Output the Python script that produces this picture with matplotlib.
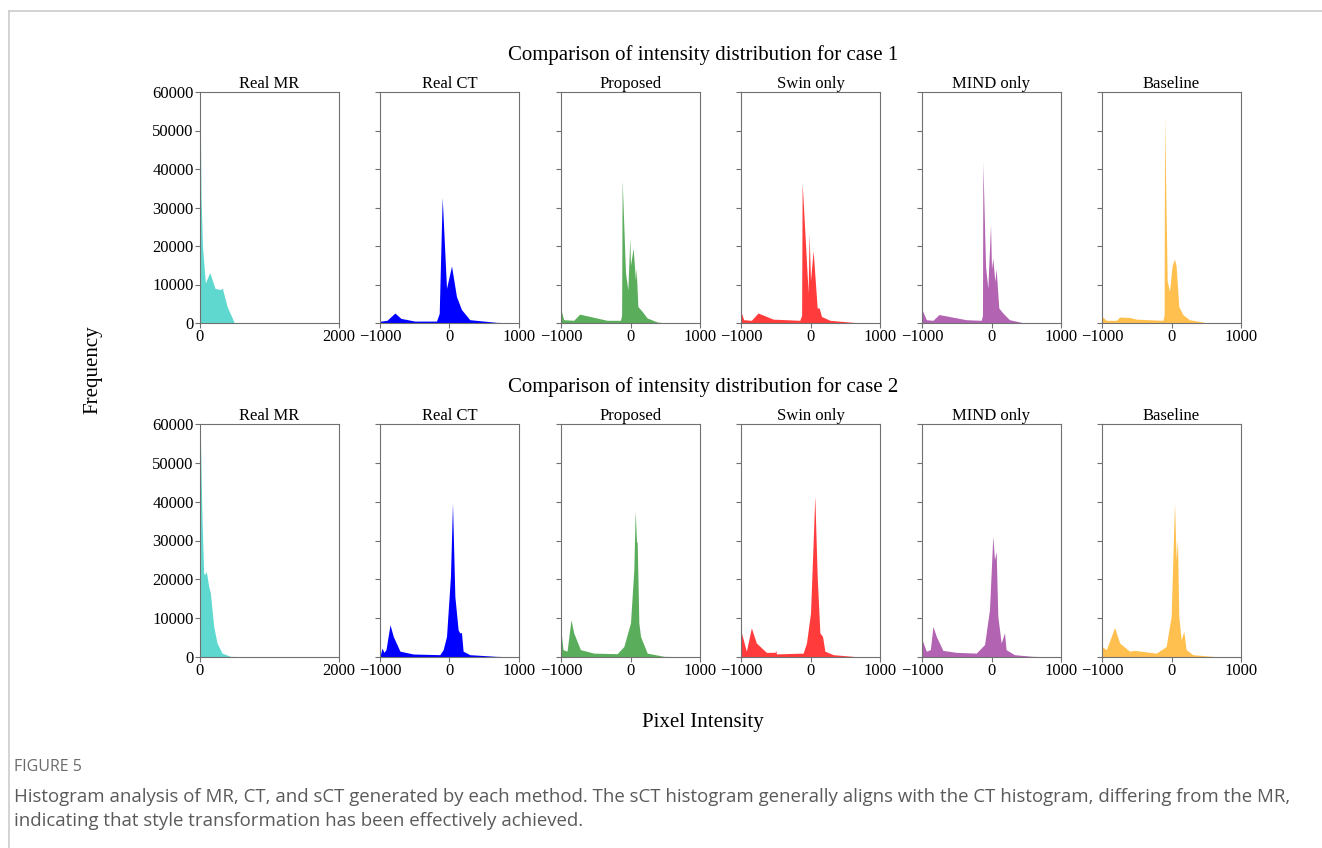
import matplotlib
matplotlib.use("Agg")
from matplotlib import pyplot as plt
from matplotlib.lines import Line2D

plt.rcParams['font.family'] = ['Liberation Serif', 'DejaVu Serif']

# panel names and colours
methods = ["Real MR", "Real CT", "Proposed", "Swin only", "MIND only", "Baseline"]
colors = ["#5fd8d0", "#0000ff", "#5aad5a", "#ff3b3b", "#b263b2", "#ffc04f"]
case_titles = ["Comparison of intensity distribution for case 1",
               "Comparison of intensity distribution for case 2"]

# ---- case 1 (intensity, frequency) ----
c1_mr_x = [0, 0, 15, 35, 77, 140, 216, 290, 322, 390, 495, 2000]
c1_mr_y = [0, 62000, 32800, 20000, 10400, 13100, 9000, 8700, 9000, 4300, 0, 0]
c1_ct_x = [-1000, -985, -900, -785, -700, -500, -187, -148, -105, -43, 29, 100, 172, 292, 675, 1000]
c1_ct_y = [500, 500, 700, 2600, 1200, 500, 500, 2500, 32600, 9000, 14800, 6900, 3500, 860, 170, 0]
c1_pr_x = [-1000, -962, -817, -731, -337, -144, -128, -120, -72, -38, -10, 0, 38, 72, 82, 106, 168, 240, 385, 500, 1000]
c1_pr_y = [3500, 860, 700, 2300, 700, 700, 2000, 37100, 13000, 8600, 22000, 15000, 19400, 11000, 14200, 4300, 3000, 1300, 260, 0, 0]
c1_sw_x = [-1000, -993, -962, -851, -755, -538, -154, -128, -120, -34, -20, 0, 38, 96, 125, 158, 279, 663, 1000]
c1_sw_y = [80000, 2600, 860, 700, 2600, 1000, 700, 2000, 36400, 7800, 23300, 11000, 18800, 3900, 3900, 1700, 700, 90, 0]
c1_mi_x = [-1000, -938, -842, -756, -364, -148, -130, -124, -86, -53, -14, 0, 19, 48, 67, 105, 163, 258, 450, 1000]
c1_mi_y = [3500, 860, 700, 2200, 860, 700, 2000, 41700, 14700, 9000, 25500, 14000, 16800, 10800, 14000, 3900, 2600, 860, 90, 0]
c1_bl_x = [-1000, -938, -794, -746, -603, -507, -124, -106, -100, -62, -29, 10, 43, 67, 105, 163, 258, 498, 1000]
c1_bl_y = [1700, 700, 700, 1550, 1450, 1000, 700, 2000, 53700, 11000, 8200, 15000, 16600, 14700, 4300, 2200, 860, 90, 0]

# ---- case 2 ----
c2_mr_x = [0, 0, 14, 29, 53, 67, 91, 125, 149, 197, 245, 317, 437, 678, 2000]
c2_mr_y = [0, 62000, 49100, 35400, 21600, 21200, 22000, 18200, 16500, 7900, 3600, 1000, 170, 50, 0]
c2_ct_x = [-1000, -971, -943, -914, -856, -809, -713, -522, -139, -91, -43, 14, 43, 77, 124, 148, 172, 196, 292, 675, 1000]
c2_ct_y = [200, 2300, 1200, 1900, 8300, 5300, 1500, 770, 600, 1900, 5300, 20800, 39700, 15600, 7000, 6200, 6300, 1500, 600, 170, 0]
c2_pr_x = [-1000, -971, -913, -856, -817, -721, -529, -192, -96, 0, 48, 67, 87, 96, 120, 144, 240, 481, 1000]
c2_pr_y = [6600, 1900, 1500, 9600, 6200, 1900, 1000, 850, 2700, 8800, 22500, 37500, 29400, 29800, 8800, 5300, 1000, 170, 0]
c2_sw_x = [-1000, -993, -923, -851, -779, -635, -510, -500, -490, -106, -58, 0, 38, 62, 96, 135, 173, 207, 327, 663, 1000]
c2_sw_y = [80000, 6200, 1500, 7500, 3600, 1200, 1200, 1700, 800, 1000, 3600, 11300, 29400, 41500, 20800, 6200, 5300, 1500, 600, 90, 0]
c2_mi_x = [-1000, -938, -880, -842, -794, -699, -507, -220, -100, -29, 19, 43, 67, 91, 139, 187, 210, 330, 593, 1000]
c2_mi_y = [4500, 1500, 1900, 7900, 5300, 1700, 1200, 1000, 3200, 12200, 31100, 25000, 27200, 10500, 3600, 6200, 1900, 600, 170, 0]
c2_bl_x = [-1000, -938, -818, -746, -603, -531, -220, -77, -5, 43, 67, 86, 105, 139, 177, 211, 306, 641, 1000]
c2_bl_y = [2700, 1900, 7600, 3600, 1500, 1700, 1000, 2700, 10500, 39700, 25000, 30200, 10500, 4500, 6600, 1900, 600, 90, 0]

cases = [
    [(c1_mr_x, c1_mr_y), (c1_ct_x, c1_ct_y), (c1_pr_x, c1_pr_y),
     (c1_sw_x, c1_sw_y), (c1_mi_x, c1_mi_y), (c1_bl_x, c1_bl_y)],
    [(c2_mr_x, c2_mr_y), (c2_ct_x, c2_ct_y), (c2_pr_x, c2_pr_y),
     (c2_sw_x, c2_sw_y), (c2_mi_x, c2_mi_y), (c2_bl_x, c2_bl_y)],
]

W, H = 1322, 848
fig = plt.figure(figsize=(W / 100, H / 100), dpi=100)

lefts = [200, 380, 561, 741, 922, 1102]
pw = 139
rows = [(92, 323), (424, 657)]
spine_c = "#707070"

for r, (top, bot) in enumerate(rows):
    for i, name in enumerate(methods):
        ax = fig.add_axes([lefts[i] / W, (H - bot) / H, pw / W, (bot - top) / H])
        x, y = cases[r][i]
        ax.fill_between(x, y, 0, color=colors[i], linewidth=0)
        ax.set_ylim(0, 60000)
        if i == 0:
            ax.set_xlim(0, 2000)
            ax.set_xticks([0, 2000])
            ax.set_yticks(range(0, 60001, 10000))
        else:
            ax.set_xlim(-1000, 1000)
            ax.set_xticks([-1000, 0, 1000])
            ax.set_yticks(range(0, 60001, 10000))
            ax.set_yticklabels([])
        ax.tick_params(labelsize=12, color=spine_c, length=3.5, pad=1)
        for s in ax.spines.values():
            s.set_color(spine_c)
        ax.set_title(name, fontsize=12, pad=1)
    fig.text(703 / W, 1 - (top - 37) / H, case_titles[r], ha="center", va="center", fontsize=15)

fig.text(93 / W, 1 - 370 / H, "Frequency", rotation=90, ha="center", va="center", fontsize=15)
fig.text(703 / W, 1 - 723 / H, "Pixel Intensity", ha="center", va="center", fontsize=15)

# frame lines of the page
fig.add_artist(Line2D([9 / W, 1], [1 - 11 / H, 1 - 11 / H], color="#cccccc", lw=1.2))
fig.add_artist(Line2D([9 / W, 9 / W], [0, 1 - 11 / H], color="#cccccc", lw=1.2))

fig.text(14 / W, 1 - 767 / H, "FIGURE 5", ha="left", va="center", fontsize=11.5,
         color="#6b6b6b", family="Open Sans")
fig.text(14 / W, 1 - 797 / H,
         "Histogram analysis of MR, CT, and sCT generated by each method. The sCT histogram generally aligns with the CT histogram, differing from the MR,",
         ha="left", va="center", fontsize=13.4, color="#5a5a5a", family="Open Sans")
fig.text(14 / W, 1 - 821 / H,
         "indicating that style transformation has been effectively achieved.",
         ha="left", va="center", fontsize=13.4, color="#5a5a5a", family="Open Sans")

fig.savefig("out.png", dpi=100)
